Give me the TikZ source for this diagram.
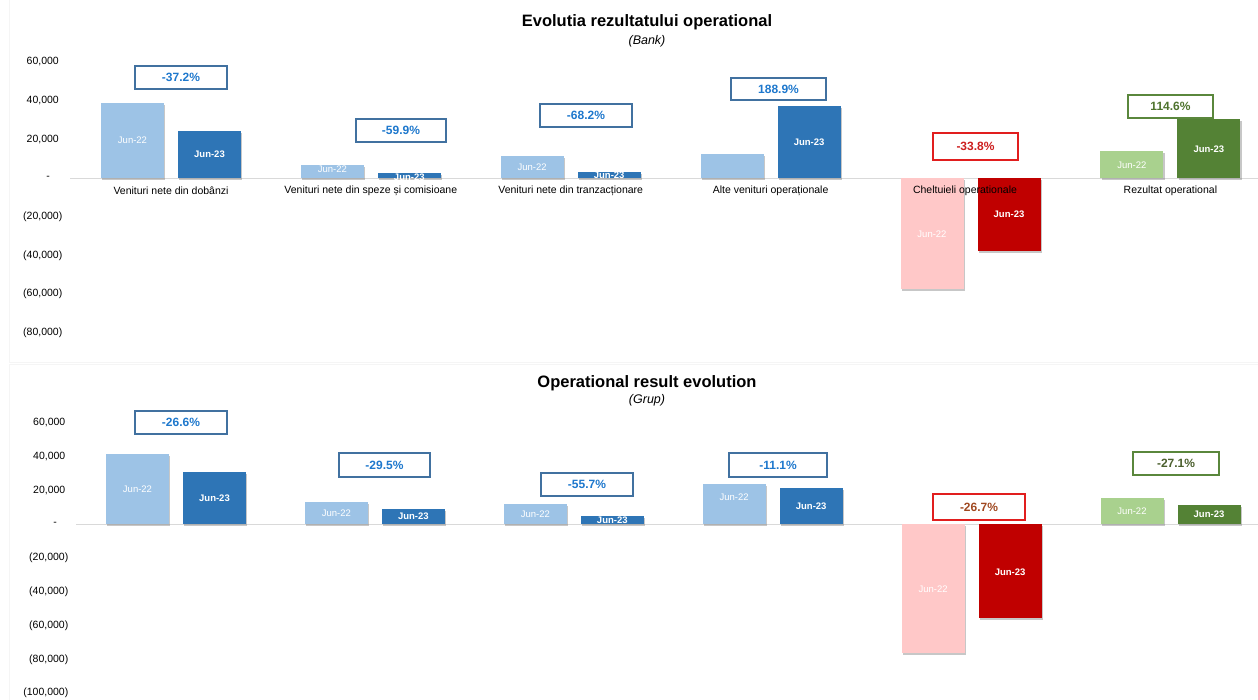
\documentclass[tikz,border=0pt]{standalone}
\usepackage{fontspec}
\setmainfont{Liberation Sans}
\usetikzlibrary{calc}

\definecolor{lblue}{RGB}{157,195,230}
\definecolor{dblue}{RGB}{46,117,182}
\definecolor{lpink}{RGB}{255,200,200}
\definecolor{dred}{RGB}{192,0,0}
\definecolor{lgreen}{RGB}{169,209,142}
\definecolor{dgreen}{RGB}{84,130,53}
\definecolor{boxblue}{RGB}{65,113,160}
\definecolor{txtblue}{RGB}{30,120,205}
\definecolor{boxred}{RGB}{225,30,30}
\definecolor{txtred}{RGB}{205,30,30}
\definecolor{txtbrown}{RGB}{160,72,32}
\definecolor{boxgreen}{RGB}{90,135,60}
\definecolor{txtgreen}{RGB}{78,115,45}
\definecolor{txtolive}{RGB}{75,95,45}
\definecolor{gridgray}{RGB}{217,217,217}
\definecolor{framegray}{RGB}{245,245,245}

\tikzset{
  charttitle/.style={font=\fontsize{16.5}{18}\selectfont\bfseries, inner sep=0},
  chartsub/.style={font=\fontsize{12.5}{14}\selectfont\itshape, inner sep=0},
  ytick/.style={anchor=east, font=\fontsize{10.5}{12}\selectfont, inner sep=0},
  catlbl/.style={font=\fontsize{10.5}{12}\selectfont, inner sep=0},
  lbla/.style={text=white, font=\fontsize{9.5}{11}\selectfont, inner sep=0},
  lblb/.style={text=white, font=\fontsize{9.5}{11}\selectfont\bfseries, inner sep=0},
  pct/.style={draw=boxblue, line width=1.4pt, fill=white, inner sep=0,
    minimum width=90pt, minimum height=23pt,
    font=\fontsize{12}{14}\selectfont\bfseries, text=txtblue},
  pctred/.style={pct, draw=boxred, text=txtred},
  pctgreen/.style={pct, draw=boxgreen, text=txtgreen},
  barshadow/.style={fill=black!55, opacity=0.4},
  zeroline/.style={draw=gridgray, line width=1pt},
  chartframe/.style={draw=framegray, line width=0.8pt},
}

% one bar: left x, y from, y to, fill colour (drop shadow below and right)
\newcommand{\vbar}[4]{%
  \fill[barshadow] (#1+1.2,#2+2.4) rectangle (#1+64.2,#3+2.4);
  \fill[#4] (#1,#2) rectangle (#1+63,#3);}

\begin{document}
\begin{tikzpicture}[x=1pt,y=-1pt]
\useasboundingbox (0,0) rectangle (1258,699);

% chart areas
\draw[chartframe] (9,-5) rectangle (1265,362);
\draw[chartframe] (9,364) rectangle (1265,705);

%% ---------------- Bank ----------------
\draw[zeroline] (70,178) -- (1258,178);

\vbar{101}{103}{178}{lblue}
\vbar{178}{131}{178}{dblue}
\vbar{300.8}{165}{178}{lblue}
\vbar{377.8}{173}{178}{dblue}
\vbar{500.7}{156}{178}{lblue}
\vbar{577.7}{172}{178}{dblue}
\vbar{700.6}{154}{178}{lblue}
\vbar{777.6}{106}{178}{dblue}
\vbar{900.5}{178}{289}{lpink}
\vbar{977.5}{178}{251}{dred}
\vbar{1100.4}{151}{178}{lgreen}
\vbar{1177.4}{119}{178}{dgreen}

\node[lbla] (b1a) at (132.5,140.5) {Jun-22};
\node[lblb] (b1b) at (209.5,154.5) {Jun-23};
\node[lbla] (b2a) at (332.3,169.5) {Jun-22};
\node[lblb] (b2b) at (409.3,177) {Jun-23};
\node[lbla] (b3a) at (532.2,167) {Jun-22};
\node[lblb] (b3b) at (609.2,175) {Jun-23};
\node[lblb] (b4b) at (809.1,142) {Jun-23};
\node[lbla] (b5a) at (932,234) {Jun-22};
\node[lblb] (b5b) at (1009,214.5) {Jun-23};
\node[lbla] (b6a) at (1131.9,165) {Jun-22};
\node[lblb] (b6b) at (1208.9,149) {Jun-23};

\node[catlbl] (c1) at (171,191) {Venituri nete din dobânzi};
\node[catlbl] (c2) at (370.8,191) {Venituri nete din speze și comisioane};
\node[catlbl] (c3) at (570.7,191) {Venituri nete din tranzacționare};
\node[catlbl] (c4) at (770.6,191) {Alte venituri operaționale};
\node[catlbl] (c5) at (965,191) {Cheltuieli operationale};
\node[catlbl] (c6) at (1170.4,191) {Rezultat operational};

\node[pct, minimum width=92pt] (p1) at (181,77.5) {-37.2\%};
\node[pct] (p2) at (401,130.5) {-59.9\%};
\node[pct, minimum width=92pt] (p3) at (586,115.5) {-68.2\%};
\node[pct, minimum width=95pt, minimum height=22pt] (p4) at (778.5,89) {188.9\%};
\node[pctred, minimum width=85pt, minimum height=27pt] (p5) at (975.5,146.5) {-33.8\%};
\node[pctgreen, minimum width=85pt] (p6) at (1170.5,106.5) {114.6\%};

\node[charttitle] (t1) at (647,22) {Evolutia rezultatului operational};
\node[chartsub] (s1) at (647,41) {(Bank)};

\node[ytick] (ya1) at (59,62) {60,000};
\node[ytick] (ya2) at (59,100.7) {40,000};
\node[ytick] (ya3) at (59,139.3) {20,000};
\node[ytick, anchor=center] (ya4) at (48,178) {-};
\node[ytick] (ya5) at (62.5,216.7) {(20,000)};
\node[ytick] (ya6) at (62.5,255.4) {(40,000)};
\node[ytick] (ya7) at (62.5,294) {(60,000)};
\node[ytick] (ya8) at (62.5,332.7) {(80,000)};

%% ---------------- Grup ----------------
\draw[zeroline] (76,524) -- (1258,524);

\vbar{106}{454}{524}{lblue}
\vbar{183}{472}{524}{dblue}
\vbar{304.9}{502}{524}{lblue}
\vbar{381.9}{509}{524}{dblue}
\vbar{503.8}{504}{524}{lblue}
\vbar{580.8}{516}{524}{dblue}
\vbar{702.7}{484}{524}{lblue}
\vbar{779.7}{488}{524}{dblue}
\vbar{901.6}{524}{653}{lpink}
\vbar{978.6}{524}{618}{dred}
\vbar{1100.5}{498}{524}{lgreen}
\vbar{1177.5}{505}{524}{dgreen}

\node[lbla] (g1a) at (137.5,489) {Jun-22};
\node[lblb] (g1b) at (214.5,498) {Jun-23};
\node[lbla] (g2a) at (336.4,513) {Jun-22};
\node[lblb] (g2b) at (413.4,516.5) {Jun-23};
\node[lbla] (g3a) at (535.3,514) {Jun-22};
\node[lblb] (g3b) at (612.3,520) {Jun-23};
\node[lbla] (g4a) at (734.2,497) {Jun-22};
\node[lblb] (g4b) at (811.2,506) {Jun-23};
\node[lbla] (g5a) at (933.1,589) {Jun-22};
\node[lblb] (g5b) at (1010.1,572) {Jun-23};
\node[lbla] (g6a) at (1132,511) {Jun-22};
\node[lblb] (g6b) at (1209,514.5) {Jun-23};

\node[pct, minimum width=92pt] (q1) at (181,422.5) {-26.6\%};
\node[pct, minimum width=91pt, minimum height=24pt] (q2) at (384.5,465) {-29.5\%};
\node[pct, minimum width=92pt] (q3) at (587,484.5) {-55.7\%};
\node[pct, minimum width=98pt, minimum height=24pt] (q4) at (778,465) {-11.1\%};
\node[pctred, minimum width=92pt, minimum height=26pt, text=txtbrown] (q5) at (979,507) {-26.7\%};
\node[pctgreen, minimum width=86pt, text=txtolive] (q6) at (1176,463.5) {-27.1\%};

\node[charttitle] (t2) at (647,383) {Operational result evolution};
\node[chartsub] (s2) at (647,400) {(Grup)};

\node[ytick] (yb1) at (65.5,422) {60,000};
\node[ytick] (yb2) at (65.5,456) {40,000};
\node[ytick] (yb3) at (65.5,490) {20,000};
\node[ytick, anchor=center] (yb4) at (55,524) {-};
\node[ytick] (yb5) at (68.5,558) {(20,000)};
\node[ytick] (yb6) at (68.5,592) {(40,000)};
\node[ytick] (yb7) at (68.5,626) {(60,000)};
\node[ytick] (yb8) at (68.5,660) {(80,000)};
\node[ytick] (yb9) at (68.5,693) {(100,000)};
\end{tikzpicture}
\end{document}
